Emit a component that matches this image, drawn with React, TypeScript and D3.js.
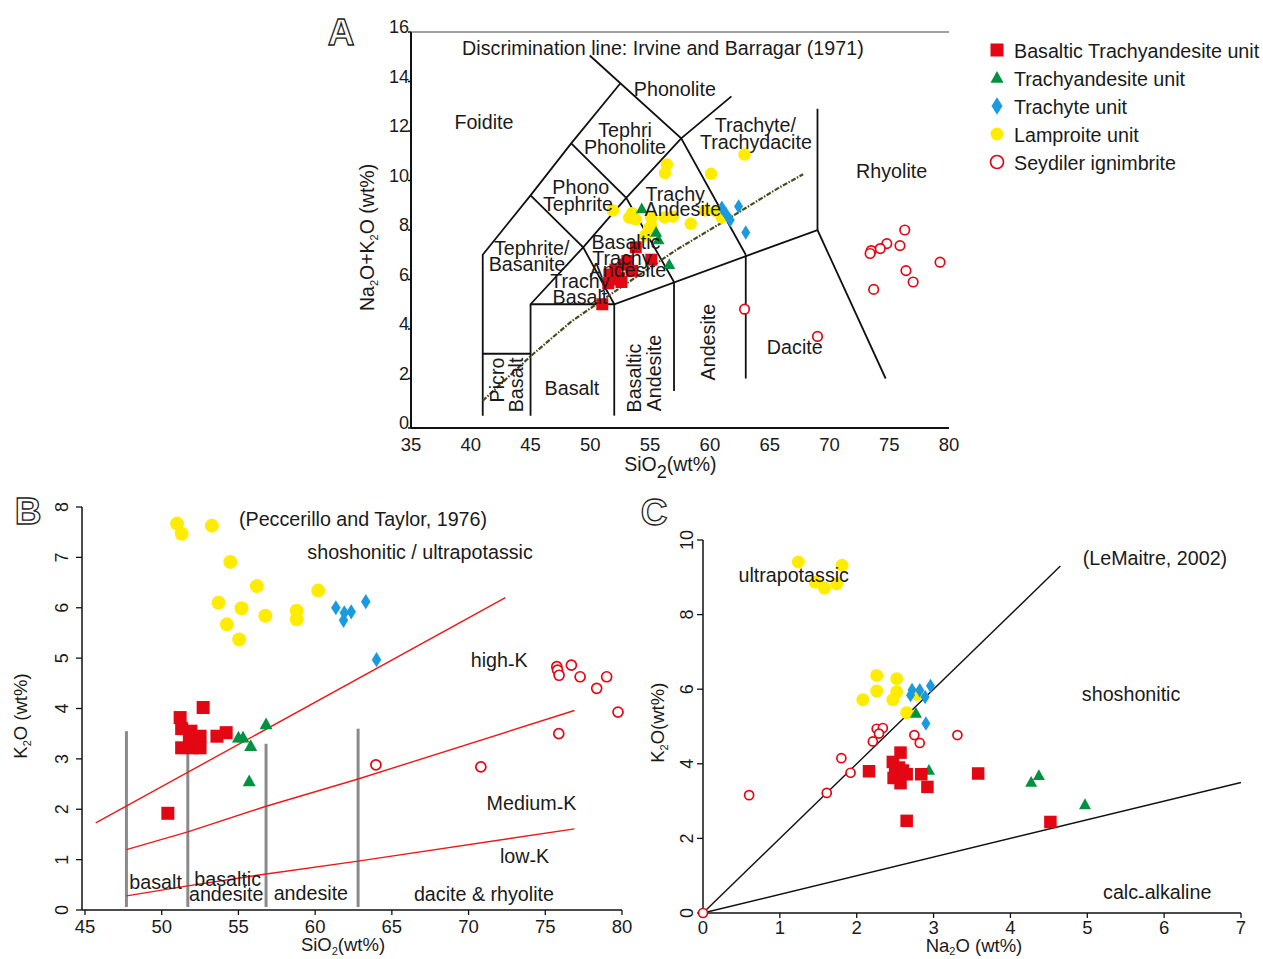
import React from "react";
import * as d3 from "d3";

type P = [number, number];

const FONT = "'Liberation Sans', Arial, Helvetica, sans-serif";
const RED = "#e30613";
const GREEN = "#00923f";
const BLUE = "#1a9be0";
const YELLOW = "#ffec00";

// ---------------- Panel A : TAS (SiO2 vs Na2O+K2O) ----------------
const tasXTicks = [35, 40, 45, 50, 55, 60, 65, 70, 75, 80];
const tasYTicks = [0, 2, 4, 6, 8, 10, 12, 14, 16];

const tasBTA: P[] = [
  [53.8, 7.3], [55.1, 6.8], [51.7, 6.0], [52.4, 6.05], [52.1, 6.4], [52.9, 6.6],
  [53.5, 6.35], [51.6, 6.2], [51.0, 5.0], [53.1, 6.75], [52.6, 5.9], [51.5, 5.85],
];
const tasTA: P[] = [[54.3, 8.85], [55.5, 7.9], [55.7, 7.6], [56.6, 6.6]];
const tasTr: P[] = [[61.0, 8.9], [61.35, 8.65], [61.7, 8.4], [62.4, 8.95], [63.0, 7.9]];
const tasLamp: P[] = [
  [62.9, 11.05], [56.4, 10.65], [56.25, 10.3], [60.1, 10.27], [51.9, 8.79], [53.5, 8.68],
  [53.8, 8.42], [55.1, 8.51], [55.1, 8.18], [54.6, 7.77], [56.2, 8.51], [56.9, 8.54],
  [58.4, 8.25], [59.6, 8.79], [60.5, 8.76], [61.0, 8.5], [54.9, 8.05], [53.25, 8.5],
];
const tasIgn: P[] = [
  [76.3, 8.0], [74.8, 7.45], [73.5, 7.17], [73.4, 7.05], [74.25, 7.25], [75.9, 7.37],
  [76.4, 6.36], [77.0, 5.9], [73.7, 5.6], [79.25, 6.7], [62.9, 4.8], [69.0, 3.7],
];

const tasFieldLines: P[][] = [
  [[41, 0.5], [41, 7], [45, 9.4], [48.4, 11.5], [52.5, 13.92]],
  [[41, 3], [45, 3]],
  [[45, 0.5], [45, 5], [49.4, 7.3], [53, 9.3], [57.6, 11.7], [61.8, 13.4]],
  [[45, 5], [52, 5], [69, 8], [69, 12.9]],
  [[52, 0.5], [52, 5]],
  [[57, 1.5], [57, 5.9]],
  [[63, 2], [63, 7]],
  [[69, 8], [74.7, 2]],
  [[45, 9.4], [49.4, 7.3], [52, 5]],
  [[48.4, 11.5], [53, 9.3], [57, 5.9]],
  [[49.95, 15.05], [57.6, 11.7], [63, 7]],
];
const tasDiscrim: P[] = [
  [41, 1.1], [45, 2.9], [48.4, 4.3], [52, 5.5], [57.2, 7.2], [61, 8.3], [65.75, 9.7], [67.8, 10.25],
];

// ---------------- Panel B : SiO2 vs K2O ----------------
const bXTicks = [45, 50, 55, 60, 65, 70, 75, 80];
const bYTicks = [0, 1, 2, 3, 4, 5, 6, 7, 8];

const bBTA: P[] = [
  [52.7, 4.02], [51.2, 3.82], [51.3, 3.6], [51.9, 3.55], [52.5, 3.45], [52.4, 3.3],
  [51.3, 3.22], [52.0, 3.22], [52.5, 3.22], [53.6, 3.45], [54.2, 3.52], [50.4, 1.92], [51.8, 3.4],
];
const bTA: P[] = [[55.0, 3.42], [55.3, 3.42], [55.8, 3.25], [56.8, 3.68], [55.7, 2.55]];
const bTr: P[] = [[61.35, 6.0], [61.9, 5.9], [62.35, 5.92], [61.85, 5.75], [63.3, 6.12], [64.0, 4.97]];
const bLamp: P[] = [
  [51.0, 7.67], [51.3, 7.47], [53.27, 7.63], [54.47, 6.91], [56.2, 6.43], [60.2, 6.34],
  [53.7, 6.1], [55.2, 5.99], [56.75, 5.84], [58.8, 5.94], [58.8, 5.77], [54.25, 5.67], [55.05, 5.37],
];
const bIgn: P[] = [
  [75.75, 4.83], [75.8, 4.76], [75.9, 4.66], [76.7, 4.86], [77.27, 4.63], [78.35, 4.4],
  [79.0, 4.63], [79.74, 3.93], [75.88, 3.5], [63.96, 2.88], [70.8, 2.84],
];
const bShoLine: P[] = [[45.7, 1.73], [72.4, 6.2]];
const bHighKLine: P[] = [[47.7, 1.2], [51.7, 1.55], [56.7, 2.05], [62.8, 2.6], [76.9, 3.96]];
const bLowKLine: P[] = [[47.7, 0.28], [51.7, 0.48], [56.7, 0.71], [62.8, 0.97], [76.9, 1.61]];
const bRockDividers: [number, number, number][] = [
  [47.7, 0.06, 3.55], [51.7, 0.06, 3.5], [56.8, 0.06, 3.3], [62.8, 0.06, 3.6],
];

// ---------------- Panel C : Na2O vs K2O ----------------
const cXTicks = [0, 1, 2, 3, 4, 5, 6, 7];
const cYTicks = [0, 2, 4, 6, 8, 10];

const cBTA: P[] = [
  [2.16, 3.8], [2.47, 4.05], [2.57, 4.3], [2.5, 3.75], [2.65, 3.72], [2.57, 3.48], [2.84, 3.72],
  [2.92, 3.38], [3.58, 3.74], [2.65, 2.47], [2.55, 3.9], [2.48, 3.62], [4.52, 2.44], [2.6, 3.82],
];
const cTA: P[] = [[2.77, 5.35], [2.94, 3.82], [4.27, 3.5], [4.37, 3.68], [4.97, 2.9]];
const cTr: P[] = [[2.7, 5.84], [2.82, 5.97], [2.89, 5.79], [2.96, 6.09], [2.9, 5.08], [2.72, 5.98]];
const cLamp: P[] = [
  [1.24, 9.41], [1.81, 9.32], [1.46, 8.87], [1.58, 8.71], [1.74, 8.83], [2.26, 6.37], [2.52, 6.28],
  [2.26, 5.95], [2.52, 5.93], [2.08, 5.72], [2.47, 5.72], [2.79, 5.86], [2.65, 5.37],
];
const cIgn: P[] = [
  [0.6, 3.16], [1.61, 3.22], [1.92, 3.76], [1.8, 4.15], [2.21, 4.6], [2.26, 4.94], [2.34, 4.96],
  [2.29, 4.81], [2.75, 4.77], [2.82, 4.56], [3.31, 4.77], [0, 0],
];
const cUltraLine: P[] = [[0, 0], [4.65, 9.3]];
const cCalcLine: P[] = [[0, 0], [7, 3.5]];

const legendItems = [
  { kind: "square", label: "Basaltic Trachyandesite unit" },
  { kind: "triangle", label: "Trachyandesite unit" },
  { kind: "diamond", label: "Trachyte unit" },
  { kind: "circle", label: "Lamproite unit" },
  { kind: "open", label: "Seydiler ignimbrite" },
];

// ---------------- scales ----------------
const xA = d3.scaleLinear().domain([35, 80]).range([411, 949]);
const yA = d3.scaleLinear().domain([0, 16]).range([428, 32]);
const xB = d3.scaleLinear().domain([45, 80]).range([85, 622]);
const yB = d3.scaleLinear().domain([0, 8]).range([910, 507]);
const xC = d3.scaleLinear().domain([0, 7]).range([703, 1241]);
const yC = d3.scaleLinear().domain([0, 10]).range([913, 540]);

const TXT = 19.7;

type Kind = "square" | "triangle" | "diamond" | "circle" | "open";

function Marker({ kind, x, y, s }: { kind: Kind; x: number; y: number; s: number }) {
  if (kind === "square") return <rect x={x - s / 2} y={y - s / 2} width={s} height={s} fill={RED} />;
  if (kind === "triangle") {
    const h = s * 0.9;
    return (
      <polygon
        points={`${x},${y - h * 0.6} ${x + s / 2},${y + h * 0.4} ${x - s / 2},${y + h * 0.4}`}
        fill={GREEN}
      />
    );
  }
  if (kind === "diamond")
    return (
      <polygon
        points={`${x},${y - s * 0.8} ${x + s * 0.5},${y} ${x},${y + s * 0.8} ${x - s * 0.5},${y}`}
        fill={BLUE}
      />
    );
  if (kind === "circle") return <circle cx={x} cy={y} r={s / 2} fill={YELLOW} />;
  return <circle cx={x} cy={y} r={s / 2} fill="white" stroke={RED} strokeWidth={1.7} />;
}

function Series({
  data, kind, sx, sy, s,
}: {
  data: P[]; kind: Kind; sx: d3.ScaleLinear<number, number>; sy: d3.ScaleLinear<number, number>; s: number;
}) {
  return (
    <g>
      {data.map((d, i) => (
        <Marker key={i} kind={kind} x={sx(d[0])} y={sy(d[1])} s={s} />
      ))}
    </g>
  );
}

function T({
  x, y, children, anchor = "middle", size = TXT, rot = 0, style,
}: {
  x: number; y: number; children: React.ReactNode; anchor?: string; size?: number; rot?: number; style?: any;
}) {
  return (
    <text
      transform={`translate(${x},${y}) rotate(${rot})`}
      textAnchor={anchor as any}
      dominantBaseline="central"
      fontSize={size}
      fontFamily={FONT}
      fill="#1a1a1a"
      style={style}
    >
      {children}
    </text>
  );
}

function PanelLetter({ x, y, ch }: { x: number; y: number; ch: string }) {
  return (
    <text
      x={x}
      y={y}
      textAnchor="middle"
      dominantBaseline="central"
      fontSize={37}
      fontWeight="bold"
      fontFamily={FONT}
      fill="white"
      stroke="#222"
      strokeWidth={1.3}
    >
      {ch}
    </text>
  );
}

export default function App() {
  const lineA = d3.line<P>().x((d) => xA(d[0])).y((d) => yA(d[1]));
  const lineB = d3.line<P>().x((d) => xB(d[0])).y((d) => yB(d[1]));
  const lineC = d3.line<P>().x((d) => xC(d[0])).y((d) => yC(d[1]));

  return (
    <svg
      width={1263}
      height={959}
      style={{ position: "absolute", left: 0, top: 0, background: "white" }}
      fontFamily={FONT}
    >
      {/* ================= Panel A ================= */}
      <g>
        <line x1={xA(35)} x2={xA(35)} y1={yA(0)} y2={yA(16)} stroke="#111" strokeWidth={2} />
        <line x1={xA(35)} x2={xA(80)} y1={yA(0)} y2={yA(0)} stroke="#111" strokeWidth={2} />
        <line x1={xA(35)} x2={xA(80)} y1={yA(16)} y2={yA(16)} stroke="#444" strokeWidth={1.2} />
        {tasYTicks.map((t) => (
          <g key={t}>
            <line x1={xA(35) - 3} x2={xA(35)} y1={yA(t)} y2={yA(t)} stroke="#111" strokeWidth={1.5} />
            <text x={xA(35) - 2} y={yA(t) + 1} textAnchor="end" fontSize={18} fill="#1a1a1a">
              {t}
            </text>
          </g>
        ))}
        {tasXTicks.map((t) => (
          <g key={t}>
            <line x1={xA(t)} x2={xA(t)} y1={yA(0)} y2={yA(0)} stroke="#111" strokeWidth={1.2} />
            <T x={xA(t)} y={yA(0) + 16} size={18.5}>{t}</T>
          </g>
        ))}
        <text x={xA(56.7)} y={yA(0) + 43} textAnchor="middle" fontSize={19.5} fill="#1a1a1a">
          SiO<tspan dy={7} fontSize={18}>2</tspan>
          <tspan dy={-7}>(wt%)</tspan>
        </text>
        <text
          transform={`translate(374,${yA(7.7)}) rotate(-90)`}
          textAnchor="middle"
          fontSize={19.5}
          fill="#1a1a1a"
        >
          Na<tspan fontSize={11} dy={4}>2</tspan>
          <tspan dy={-4}>O+K</tspan>
          <tspan fontSize={11} dy={4}>2</tspan>
          <tspan dy={-4}>O (wt%)</tspan>
        </text>

        {tasFieldLines.map((l, i) => (
          <path key={i} d={lineA(l) || ""} fill="none" stroke="#111" strokeWidth={1.8} />
        ))}
        <path
          d={lineA(tasDiscrim) || ""}
          fill="none"
          stroke="#4a4a1c"
          strokeWidth={2.2}
          strokeDasharray="5 1.5 1.5 1.5"
        />

        <Series data={tasLamp} kind="circle" sx={xA} sy={yA} s={12.5} />
        <Series data={tasTr} kind="diamond" sx={xA} sy={yA} s={9} />
        <Series data={tasTA} kind="triangle" sx={xA} sy={yA} s={12} />
        <Series data={tasBTA} kind="square" sx={xA} sy={yA} s={12} />
        <Series data={tasIgn} kind="open" sx={xA} sy={yA} s={9.5} />

        <T x={xA(56.07)} y={yA(15.35)}>Discrimination line: Irvine and Barragar (1971)</T>
        <T x={xA(57.07)} y={yA(13.7)}>Phonolite</T>
        <T x={xA(41.1)} y={yA(12.36)}>Foidite</T>
        <T x={xA(52.9)} y={yA(12.04)}>Tephri</T>
        <T x={xA(52.9)} y={yA(11.37)}>Phonolite</T>
        <T x={xA(63.8)} y={yA(12.24)}>Trachyte/</T>
        <T x={xA(63.85)} y={yA(11.56)}>Trachydacite</T>
        <T x={xA(75.2)} y={yA(10.38)}>Rhyolite</T>
        <T x={xA(49.2)} y={yA(9.74)}>Phono</T>
        <T x={xA(48.96)} y={yA(9.05)}>Tephrite</T>
        <T x={xA(57.1)} y={yA(9.45)}>Trachy</T>
        <T x={xA(57.74)} y={yA(8.85)}>Andesite</T>
        <T x={xA(45.1)} y={yA(7.27)}>Tephrite/</T>
        <T x={xA(44.7)} y={yA(6.63)}>Basanite</T>
        <T x={xA(52.98)} y={yA(7.52)}>Basaltic</T>
        <T x={xA(52.64)} y={yA(6.87)}>Trachy</T>
        <T x={xA(53.14)} y={yA(6.38)}>Andesite</T>
        <T x={xA(49.13)} y={yA(5.94)}>Trachy</T>
        <T x={xA(49.13)} y={yA(5.29)}>Basalt</T>
        <T x={xA(42.19)} y={yA(1.94)} rot={-90}>Picro</T>
        <T x={xA(43.78)} y={yA(1.74)} rot={-90}>Basalt</T>
        <T x={xA(48.46)} y={yA(1.62)}>Basalt</T>
        <T x={xA(53.65)} y={yA(2.02)} rot={-90}>Basaltic</T>
        <T x={xA(55.32)} y={yA(2.22)} rot={-90}>Andesite</T>
        <T x={xA(59.83)} y={yA(3.47)} rot={-90}>Andesite</T>
        <T x={xA(67.1)} y={yA(3.27)}>Dacite</T>

        <PanelLetter x={341} y={32} ch="A" />
      </g>

      {/* ================= Legend ================= */}
      <g>
        {legendItems.map((it, i) => {
          const y = 50 + i * 28;
          const s = it.kind === "diamond" ? 11 : 13;
          return (
            <g key={it.label}>
              <Marker kind={it.kind as Kind} x={997} y={y} s={s} />
              <T x={1014} y={y + 1} anchor="start">{it.label}</T>
            </g>
          );
        })}
      </g>

      {/* ================= Panel B ================= */}
      <g>
        <line x1={xB(45) - 3} x2={xB(45) - 3} y1={yB(0)} y2={yB(8)} stroke="#111" strokeWidth={1.5} />
        <line x1={xB(45) - 3} x2={xB(80)} y1={yB(0)} y2={yB(0)} stroke="#111" strokeWidth={1.5} />
        {bYTicks.map((t) => (
          <g key={t}>
            <line x1={xB(45) - 9} x2={xB(45) - 3} y1={yB(t)} y2={yB(t)} stroke="#111" strokeWidth={1.3} />
            <T x={62} y={yB(t)} rot={-90} size={18}>{t}</T>
          </g>
        ))}
        {bXTicks.map((t) => (
          <g key={t}>
            <line x1={xB(t)} x2={xB(t)} y1={yB(0)} y2={yB(0) + 5} stroke="#111" strokeWidth={1.3} />
            <T x={xB(t)} y={yB(0) + 16} size={18.5}>{t}</T>
          </g>
        ))}
        <text x={343} y={951} textAnchor="middle" fontSize={18.5} fill="#1a1a1a">
          SiO<tspan fontSize={11} dy={4}>2</tspan>
          <tspan dy={-4}>(wt%)</tspan>
        </text>
        <text transform={`translate(27,${yB(3.85)}) rotate(-90)`} textAnchor="middle" fontSize={18.5} fill="#1a1a1a">
          K<tspan fontSize={11} dy={4}>2</tspan>
          <tspan dy={-4}>O (wt%)</tspan>
        </text>

        {bRockDividers.map((d, i) => (
          <line key={i} x1={xB(d[0])} x2={xB(d[0])} y1={yB(d[1])} y2={yB(d[2])} stroke="#8a8a8a" strokeWidth={3} />
        ))}
        {[bShoLine, bHighKLine, bLowKLine].map((l, i) => (
          <path key={i} d={lineB(l) || ""} fill="none" stroke="#f01818" strokeWidth={1.4} />
        ))}

        <Series data={bLamp} kind="circle" sx={xB} sy={yB} s={14} />
        <Series data={bTr} kind="diamond" sx={xB} sy={yB} s={9.5} />
        <Series data={bTA} kind="triangle" sx={xB} sy={yB} s={13} />
        <Series data={bBTA} kind="square" sx={xB} sy={yB} s={13} />
        <Series data={bIgn} kind="open" sx={xB} sy={yB} s={10} />

        <T x={xB(63.12)} y={yB(7.76)}>(Peccerillo and Taylor, 1976)</T>
        <T x={xB(66.84)} y={yB(7.1)}>shoshonitic / ultrapotassic</T>
        <T x={xB(72.0)} y={yB(4.96)}>
          high<tspan dy={4}>-</tspan>
          <tspan dy={-4}>K</tspan>
        </T>
        <T x={xB(74.1)} y={yB(2.13)}>
          Medium<tspan dy={4}>-</tspan>
          <tspan dy={-4}>K</tspan>
        </T>
        <T x={xB(73.65)} y={yB(1.07)}>
          low<tspan dy={4}>-</tspan>
          <tspan dy={-4}>K</tspan>
        </T>
        <T x={xB(49.6)} y={yB(0.56)}>basalt</T>
        <T x={xB(54.3)} y={yB(0.61)}>basaltic</T>
        <T x={xB(54.2)} y={yB(0.32)}>andesite</T>
        <T x={xB(59.72)} y={yB(0.34)}>andesite</T>
        <T x={xB(71.0)} y={yB(0.32)}>dacite &amp; rhyolite</T>

        <PanelLetter x={28} y={511} ch="B" />
      </g>

      {/* ================= Panel C ================= */}
      <g>
        <line x1={xC(0)} x2={xC(0)} y1={yC(0)} y2={yC(10)} stroke="#111" strokeWidth={1.5} />
        <line x1={xC(0)} x2={xC(7)} y1={yC(0)} y2={yC(0)} stroke="#111" strokeWidth={1.5} />
        {cYTicks.map((t) => (
          <g key={t}>
            <line x1={xC(0) - 6} x2={xC(0)} y1={yC(t)} y2={yC(t)} stroke="#111" strokeWidth={1.3} />
            <T x={687} y={yC(t)} rot={-90} size={18}>{t}</T>
          </g>
        ))}
        {cXTicks.map((t) => (
          <g key={t}>
            <line x1={xC(t)} x2={xC(t)} y1={yC(0)} y2={yC(0) + 5} stroke="#111" strokeWidth={1.3} />
            <T x={xC(t)} y={yC(0) + 14} size={18.5}>{t}</T>
          </g>
        ))}
        <text x={974} y={952} textAnchor="middle" fontSize={18.5} fill="#1a1a1a">
          Na<tspan fontSize={11} dy={3}>2</tspan>
          <tspan dy={-3}>O (wt%)</tspan>
        </text>
        <text transform={`translate(664,${yC(5.1)}) rotate(-90)`} textAnchor="middle" fontSize={18.5} fill="#1a1a1a">
          K<tspan fontSize={11} dy={4}>2</tspan>
          <tspan dy={-4}>O(wt%)</tspan>
        </text>

        <path d={lineC(cUltraLine) || ""} fill="none" stroke="#111" strokeWidth={1.4} />
        <path d={lineC(cCalcLine) || ""} fill="none" stroke="#111" strokeWidth={1.4} />

        <Series data={cLamp} kind="circle" sx={xC} sy={yC} s={13} />
        <Series data={cTr} kind="diamond" sx={xC} sy={yC} s={9} />
        <Series data={cTA} kind="triangle" sx={xC} sy={yC} s={12} />
        <Series data={cBTA} kind="square" sx={xC} sy={yC} s={12.5} />
        <Series data={cIgn} kind="open" sx={xC} sy={yC} s={9} />

        <T x={xC(1.18)} y={yC(9.06)}>ultrapotassic</T>
        <T x={xC(5.88)} y={yC(9.52)}>(LeMaitre, 2002)</T>
        <T x={xC(5.57)} y={yC(5.87)}>shoshonitic</T>
        <T x={xC(5.91)} y={yC(0.56)}>
          calc<tspan dy={4}>-</tspan>
          <tspan dy={-4}>alkaline</tspan>
        </T>

        <PanelLetter x={654} y={512} ch="C" />
      </g>
    </svg>
  );
}
